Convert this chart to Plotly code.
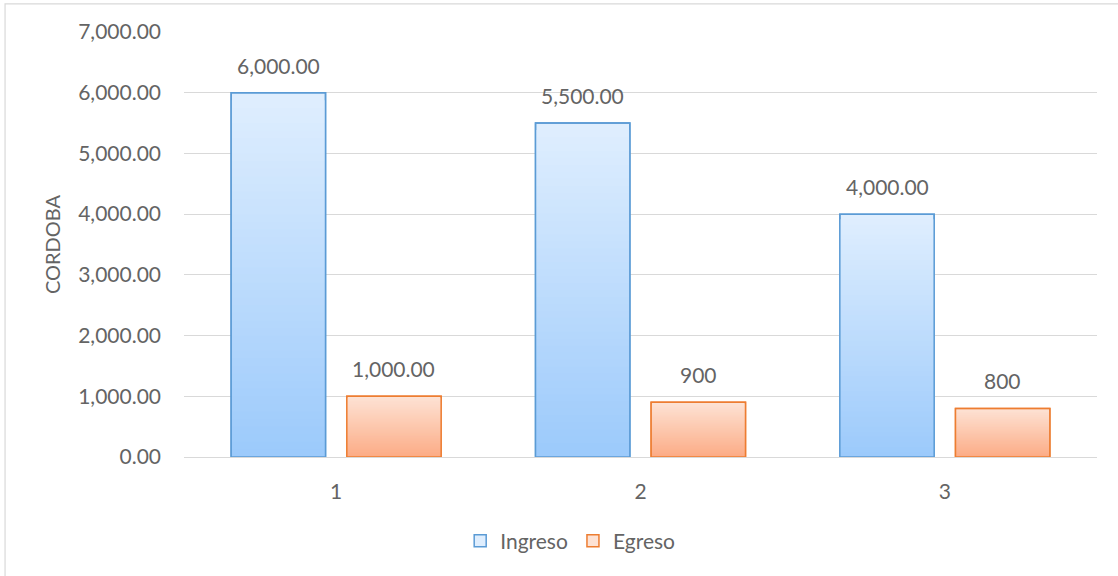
import plotly.graph_objects as go

# ---- data ---------------------------------------------------------------
categories = ["1", "2", "3"]
ingreso = [6000, 5500, 4000]
egreso = [1000, 900, 800]
ingreso_labels = ["6,000.00", "5,500.00", "4,000.00"]
egreso_labels = ["1,000.00", "900", "800"]
y_ticks = [0, 1000, 2000, 3000, 4000, 5000, 6000, 7000]
y_tick_labels = ["0.00", "1,000.00", "2,000.00", "3,000.00",
                 "4,000.00", "5,000.00", "6,000.00", "7,000.00"]

# ---- styling ------------------------------------------------------------
FONT = "Lato"
TEXT = "#646464"
GRID = "#d9d9d9"
BAR_W = 0.31
STEPS = 48  # number of colour bands used to fake the vertical gradient

series = [
    dict(name="Ingreso", values=ingreso, labels=ingreso_labels,
         top=(223, 238, 254), bottom=(156, 202, 251), line="#5b9bd5", offset=-0.345),
    dict(name="Egreso", values=egreso, labels=egreso_labels,
         top=(253, 226, 212), bottom=(252, 172, 134), line="#ed7d31", offset=0.035),
]

xpos = list(range(1, len(categories) + 1))


def mix(c0, c1, t):
    return "rgb({},{},{})".format(*[round(a + (b - a) * t) for a, b in zip(c0, c1)])


fig = go.Figure()
annotations = []

for s in series:
    vals = s["values"]
    # Stacked-from-zero bars, each shorter and darker, give a light-top/dark-bottom fill.
    for k in range(STEPS):
        frac = (STEPS - k) / STEPS
        fig.add_trace(go.Bar(
            x=xpos, y=[v * frac for v in vals],
            width=BAR_W, offset=s["offset"],
            marker=dict(color=mix(s["top"], s["bottom"], k / (STEPS - 1)),
                        line=dict(color=s["line"], width=1.5 if k == 0 else 0)),
            name=s["name"], legendgroup=s["name"], showlegend=(k == 0),
            hoverinfo="skip",
        ))
    # Outline on top of the bands
    fig.add_trace(go.Bar(
        x=xpos, y=vals, width=BAR_W, offset=s["offset"],
        marker=dict(color="rgba(0,0,0,0)", line=dict(color=s["line"], width=1.5)),
        name=s["name"], legendgroup=s["name"], showlegend=False,
        hovertemplate=s["name"] + ": %{y:,.2f}<extra></extra>",
    ))
    for x, v, lab in zip(xpos, vals, s["labels"]):
        annotations.append(dict(
            x=x + s["offset"] + BAR_W / 2, y=v, xref="x", yref="y",
            text=lab, showarrow=False, yanchor="bottom", yshift=13,
            font=dict(family=FONT, size=21, color=TEXT),
        ))

# Light frame around the chart area
shapes = [dict(type="rect", xref="paper", yref="paper",
               x0=-0.196, x1=1.03, y0=-0.3, y1=1.066,
               line=dict(color=GRID, width=1.2), fillcolor="rgba(0,0,0,0)",
               layer="below")]

fig.update_layout(
    width=1118, height=576, autosize=False,
    margin=dict(l=184, r=21, t=32, b=119, pad=0),
    paper_bgcolor="white", plot_bgcolor="white",
    barmode="overlay",
    font=dict(family=FONT, size=21, color=TEXT),
    annotations=annotations, shapes=shapes,
    legend=dict(orientation="h", x=0.423, xanchor="center", y=-0.198, yanchor="middle",
                font=dict(family=FONT, size=21, color=TEXT), traceorder="normal",
                itemwidth=30, bgcolor="rgba(0,0,0,0)"),
    xaxis=dict(range=[0.5, len(categories) + 0.5], tickvals=xpos, ticktext=categories,
               showgrid=False, showline=True, linecolor=GRID, linewidth=1.2,
               zeroline=False, ticks="", ticklabelstandoff=16,
               tickfont=dict(family=FONT, size=21, color=TEXT), automargin=False),
    yaxis=dict(range=[0, 7000], tickvals=y_ticks, ticktext=y_tick_labels,
               showgrid=True, gridcolor=GRID, gridwidth=1.2, zeroline=False,
               showline=False, ticks="", ticklabelstandoff=22,
               tickfont=dict(family=FONT, size=21, color=TEXT),
               title=dict(text="CORDOBA", standoff=12,
                          font=dict(family=FONT, size=20, color=TEXT)),
               automargin=False),
)

fig.write_html("out.html")
